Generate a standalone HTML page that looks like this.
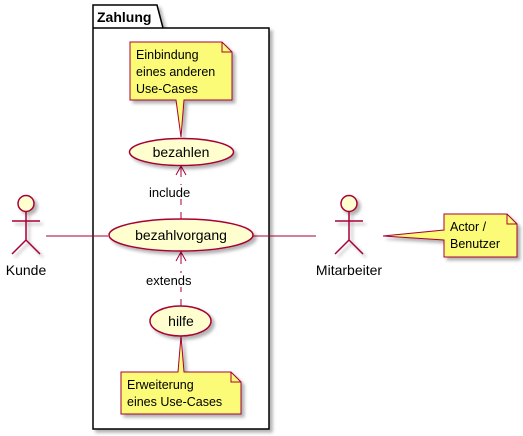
<!DOCTYPE html>
<html><head><meta charset="utf-8"><style>
html,body{margin:0;padding:0;background:#fff;}
svg{display:block;font-family:"Liberation Sans",sans-serif;}
</style></head><body>
<svg width="523" height="436" viewBox="0 0 523 436" xmlns="http://www.w3.org/2000/svg">
<defs>
<filter id="sh" x="-20%" y="-20%" width="150%" height="150%">
<feDropShadow dx="3" dy="3" stdDeviation="1.5" flood-color="#000" flood-opacity="0.3"/>
</filter>
</defs>
<!-- package -->
<g filter="url(#sh)">
<path d="M93,28 L93,5 L157,5 L163,28 L269,28 L269,429 L93,429 Z" fill="#fff" stroke="#000" stroke-width="1.5"/>
</g>
<line x1="93" y1="28" x2="163" y2="28" stroke="#000" stroke-width="1.5"/>
<text x="97" y="22" font-size="14" font-weight="bold">Zahlung</text>

<!-- note 1 -->
<g filter="url(#sh)">
<path d="M130,42 L222,42 L232,52 L232,100 L184,100 L181,137 L176,100 L130,100 Z" fill="#FBFB77" stroke="#A80036" stroke-width="1"/>
</g>
<path d="M222,42 L222,52 L232,52" fill="none" stroke="#A80036"/>
<text font-size="12.5" fill="#000"><tspan x="136" y="59">Einbindung</tspan><tspan x="136" y="76">eines anderen</tspan><tspan x="136" y="93">Use-Cases</tspan></text>

<!-- note 2 -->
<g filter="url(#sh)">
<path d="M121,372 L178,372 L181,336 L184,372 L231,372 L241,382 L241,414 L121,414 Z" fill="#FBFB77" stroke="#A80036"/>
</g>
<path d="M231,372 L231,382 L241,382" fill="none" stroke="#A80036"/>
<text font-size="12.5"><tspan x="127" y="389">Erweiterung</tspan><tspan x="127" y="406">eines Use-Cases</tspan></text>

<!-- note 3 -->
<g filter="url(#sh)">
<path d="M444,214 L507,214 L517,224 L517,257 L444,257 L444,240 L383,236 L444,230 Z" fill="#FBFB77" stroke="#A80036"/>
</g>
<path d="M507,214 L507,224 L517,224" fill="none" stroke="#A80036"/>
<text font-size="12.5"><tspan x="450" y="231">Actor /</tspan><tspan x="450" y="248">Benutzer</tspan></text>

<!-- connectors -->
<line x1="46" y1="236" x2="108" y2="236" stroke="#A80036"/>
<line x1="253" y1="236" x2="316" y2="236" stroke="#A80036"/>
<line x1="181" y1="219" x2="181" y2="166" stroke="#A80036" stroke-dasharray="7,7"/>
<path d="M176,175 L181,166 L186,175 M181,166 L181,174" fill="none" stroke="#A80036"/>
<line x1="181" y1="306" x2="181" y2="252" stroke="#A80036" stroke-dasharray="7,7"/>
<path d="M176,261 L181,252 L186,261 M181,252 L181,260" fill="none" stroke="#A80036"/>
<rect x="146" y="185" width="46" height="14" fill="#fff"/>
<text x="149" y="197" font-size="13">include</text>
<rect x="145" y="273" width="50" height="14" fill="#fff"/>
<text x="146" y="285" font-size="13">extends</text>

<!-- use cases -->
<g filter="url(#sh)" fill="#FEFECE" stroke="#A80036" stroke-width="1.5">
<ellipse cx="181.5" cy="152" rx="52" ry="13.5"/>
<ellipse cx="181" cy="235" rx="72" ry="16"/>
<ellipse cx="180.5" cy="321" rx="30.5" ry="15"/>
</g>
<text x="181" y="157" font-size="14" text-anchor="middle">bezahlen</text>
<text x="181" y="240" font-size="14" text-anchor="middle">bezahlvorgang</text>
<text x="181" y="326" font-size="14" text-anchor="middle">hilfe</text>

<!-- actors -->
<g filter="url(#sh)" stroke="#A80036" stroke-width="1.5" fill="none">
<circle cx="26" cy="203.5" r="8" fill="#FEFECE"/>
<path d="M26,212 L26,240 M12,221 L40,221 M12,254 L26,240 L40,254"/>
<circle cx="349" cy="203.5" r="8" fill="#FEFECE"/>
<path d="M349,212 L349,240 M335,221 L363,221 M335,254 L349,240 L363,254"/>
</g>
<text x="26" y="275" font-size="14" text-anchor="middle">Kunde</text>
<text x="349" y="275" font-size="14" text-anchor="middle">Mitarbeiter</text>
</svg>
</body></html>
